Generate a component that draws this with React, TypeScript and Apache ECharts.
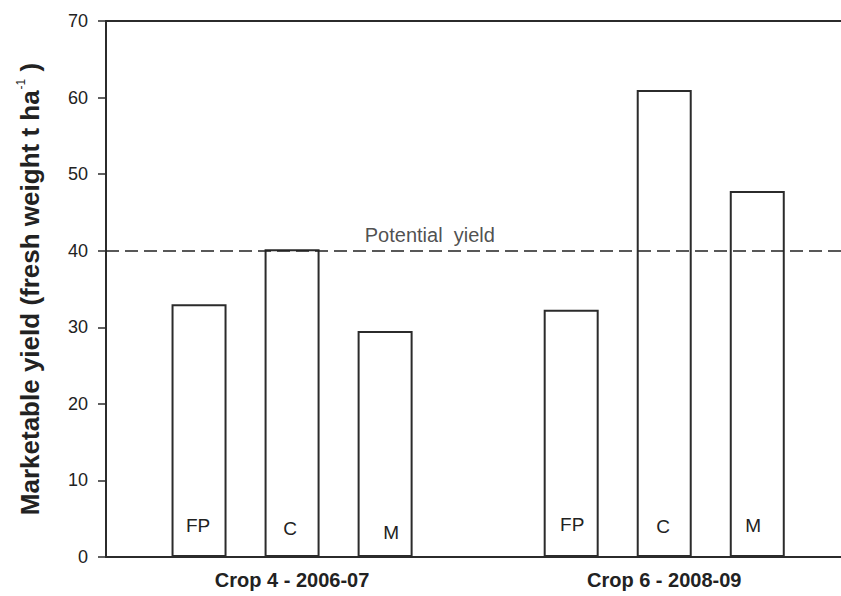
import React, { useEffect, useRef } from "react";
import * as echarts from "echarts";

// Marketable yield per treatment, two cropping seasons
const groups = ["Crop 4 - 2006-07", "Crop 6 - 2008-09"];
const treatments = ["FP", "C", "M"];
const yieldCrop4 = [33.0, 40.2, 29.5];
const yieldCrop6 = [32.3, 61.0, 47.8];
const potentialYield = 40;
const yTicks = [0, 10, 20, 30, 40, 50, 60, 70];

// small per-bar nudges for the treatment letters: [dx, distance from bar base]
const letterNudge = [
  [-1, 22], [-2, 19], [6, 15],
  [1, 23], [-1, 21], [-4, 22],
];

const FONT = "'Liberation Sans', Arial, sans-serif";
const INK = "#2b2b2b";

export default function App() {
  const ref = useRef<HTMLDivElement>(null);

  useEffect(() => {
    if (!ref.current) return;
    const chart = echarts.init(ref.current, null, { renderer: "svg" });

    const seasons = [yieldCrop4, yieldCrop6];
    const barData: any[] = [];
    seasons.forEach((vals, g) => {
      vals.forEach((v, t) => {
        const k = g * treatments.length + t;
        barData.push({
          value: [1 + g * 4 + t, v],
          name: treatments[t],
          label: { offset: [letterNudge[k][0], 0], distance: letterNudge[k][1] },
        });
      });
    });

    const groupCenter = (g: number) => 2 + g * 4;

    chart.setOption({
      animation: false,
      grid: { left: 106, top: 21, bottom: 39, right: 0, containLabel: false },
      xAxis: [
        {
          type: "value",
          min: 0,
          max: 7.9,
          interval: 1,
          splitLine: { show: false },
          axisTick: { show: false },
          axisLine: { show: true, lineStyle: { color: INK, width: 2 } },
          axisLabel: {
            margin: 13,
            fontFamily: FONT,
            fontSize: 20,
            fontWeight: "bold",
            color: "#222",
            showMaxLabel: false,
            formatter: (v: number) => {
              const g = groups.findIndex((_, i) => groupCenter(i) === v);
              return g >= 0 ? groups[g] : "";
            },
          },
        },
        {
          type: "value",
          position: "top",
          min: 0,
          max: 7.9,
          splitLine: { show: false },
          axisTick: { show: false },
          axisLabel: { show: false },
          axisLine: { show: true, onZero: false, lineStyle: { color: INK, width: 2 } },
        },
      ],
      yAxis: {
        type: "value",
        min: yTicks[0],
        max: yTicks[yTicks.length - 1],
        interval: 10,
        splitLine: { show: false },
        axisLine: { show: true, lineStyle: { color: INK, width: 2 } },
        axisTick: { show: true, length: 8, lineStyle: { color: INK, width: 1.5 } },
        axisLabel: { margin: 18, fontFamily: FONT, fontSize: 18, color: "#222" },
        name: "{a|Marketable yield (fresh weight t ha}{s|-1}{a| )}",
        nameLocation: "middle",
        nameGap: 62,
        nameTextStyle: {
          rich: {
            a: { fontFamily: FONT, fontSize: 26, fontWeight: "bold", color: "#222", lineHeight: 29 },
            s: { fontFamily: FONT, fontSize: 12, color: "#222", verticalAlign: "top", lineHeight: 12, padding: [0, 0, 0, 1] },
          },
        },
      },
      series: [
        {
          type: "bar",
          xAxisIndex: 0,
          barWidth: 55,
          data: barData,
          itemStyle: { color: "#ffffff", borderColor: INK, borderWidth: 2 },
          label: {
            show: true,
            position: "insideBottom",
            formatter: (p: any) => p.name,
            fontFamily: FONT,
            fontSize: 19,
            color: "#222",
          },
          markLine: {
            silent: true,
            symbol: ["none", "none"],
            label: { show: false },
            lineStyle: { type: [13, 6], color: "#222", width: 1.5 },
            data: [{ yAxis: potentialYield }],
          },
        },
        {
          type: "scatter",
          xAxisIndex: 0,
          symbolSize: 0,
          silent: true,
          data: [[3.48, potentialYield]],
          label: {
            show: true,
            position: "top",
            distance: 6,
            formatter: "Potential  yield",
            fontFamily: FONT,
            fontSize: 20,
            color: "#222",
          },
        },
      ],
    });

    return () => chart.dispose();
  }, []);

  return (
    <div
      ref={ref}
      style={{ position: "fixed", left: 0, top: 0, width: 841, height: 596, background: "#fff" }}
    />
  );
}
